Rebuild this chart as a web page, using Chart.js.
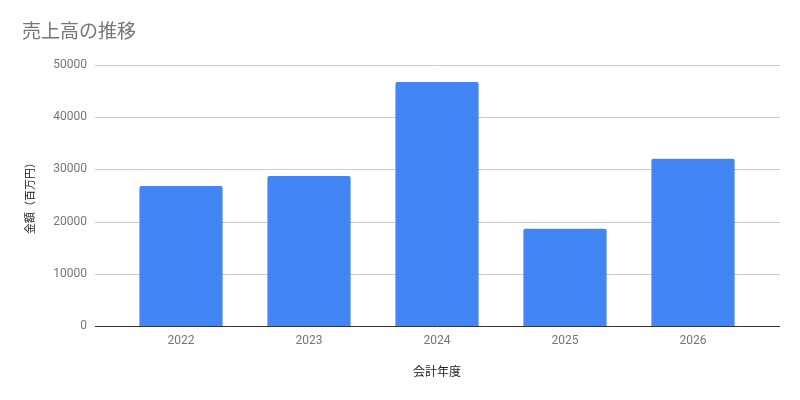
<!DOCTYPE html>
<html><head><meta charset="utf-8">
<script src="https://cdn.jsdelivr.net/npm/chart.js@4"></script>
<style>html,body{margin:0;padding:0;background:#fff}#wrap{width:800px;height:400px}</style>
</head><body><div id="wrap"><canvas id="c" width="800" height="400"></canvas></div>
<script>
const categories = ["2022", "2023", "2024", "2025", "2026"];
const salesValues = [26800, 28700, 46700, 18600, 32000];
const yTicks = [0, 10000, 20000, 30000, 40000, 50000];
const titleText = "売上高の推移";
const xTitle = "会計年度";
const yTitle = "金額（百万円）";

const FONT = "Roboto, 'Noto Sans CJK JP', sans-serif";

const extGrid = {
  id: 'extGrid',
  beforeDatasetsDraw(chart) {
    const y = chart.scales.y, ctx = chart.ctx;
    const l = chart.chartArea.left - 22, r = chart.chartArea.right + 23;
    ctx.save();
    yTicks.forEach(v => {
      if (v === 0) return;
      const py = Math.round(y.getPixelForValue(v)) + 0.5;
      ctx.strokeStyle = '#cccccc'; ctx.lineWidth = 1;
      ctx.beginPath(); ctx.moveTo(l, py); ctx.lineTo(r, py); ctx.stroke();
    });
    ctx.restore();
  },
  afterDatasetsDraw(chart) {
    const y = chart.scales.y, ctx = chart.ctx;
    const l = chart.chartArea.left - 22, r = chart.chartArea.right + 23;
    const py = Math.round(y.getPixelForValue(0)) + 0.5;
    ctx.save();
    ctx.strokeStyle = '#333333'; ctx.lineWidth = 1;
    ctx.beginPath(); ctx.moveTo(l, py); ctx.lineTo(r, py); ctx.stroke();
    ctx.restore();
  }
};

new Chart(document.getElementById('c'), {
  type: 'bar',
  data: {
    labels: categories,
    datasets: [{ data: salesValues, backgroundColor: '#4285F4', borderRadius: 2, borderSkipped: 'bottom',
      categoryPercentage: 0.65, barPercentage: 1.0 }]
  },
  options: {
    responsive: false, animation: false,
    devicePixelRatio: 1,
    layout: { padding: { left: 22, right: 43, top: 0, bottom: 0 } },
    plugins: {
      legend: { display: false },
      tooltip: { enabled: false },
      title: { display: true, text: titleText, align: 'start', color: '#757575',
        font: { family: FONT, size: 19, weight: 'normal' }, padding: { top: 22, bottom: 20 } }
    },
    scales: {
      x: {
        grid: { display: false, drawTicks: false }, border: { display: false },
        ticks: { color: '#757575', font: { family: FONT, size: 12 }, padding: 8 },
        title: { display: true, text: xTitle, color: '#222222', font: { family: FONT, size: 12 }, padding: { top: 18, bottom: 20 } },
        afterFit(s) { s.height = 74; }
      },
      y: {
        min: 0, max: 50000,
        afterBuildTicks(s) { s.ticks = yTicks.map(v => ({ value: v })); },
        grid: { display: false, drawTicks: false }, border: { display: false },
        ticks: { color: '#757575', font: { family: FONT, size: 12 }, padding: 30,
          callback: v => String(v) },
        title: { display: true, text: yTitle, color: '#222222', font: { family: FONT, size: 11 }, padding: { top: 3, bottom: 0 } },
        afterFit(s) { s.width = 95; }
      }
    }
  },
  plugins: [extGrid]
});
</script></body></html>
